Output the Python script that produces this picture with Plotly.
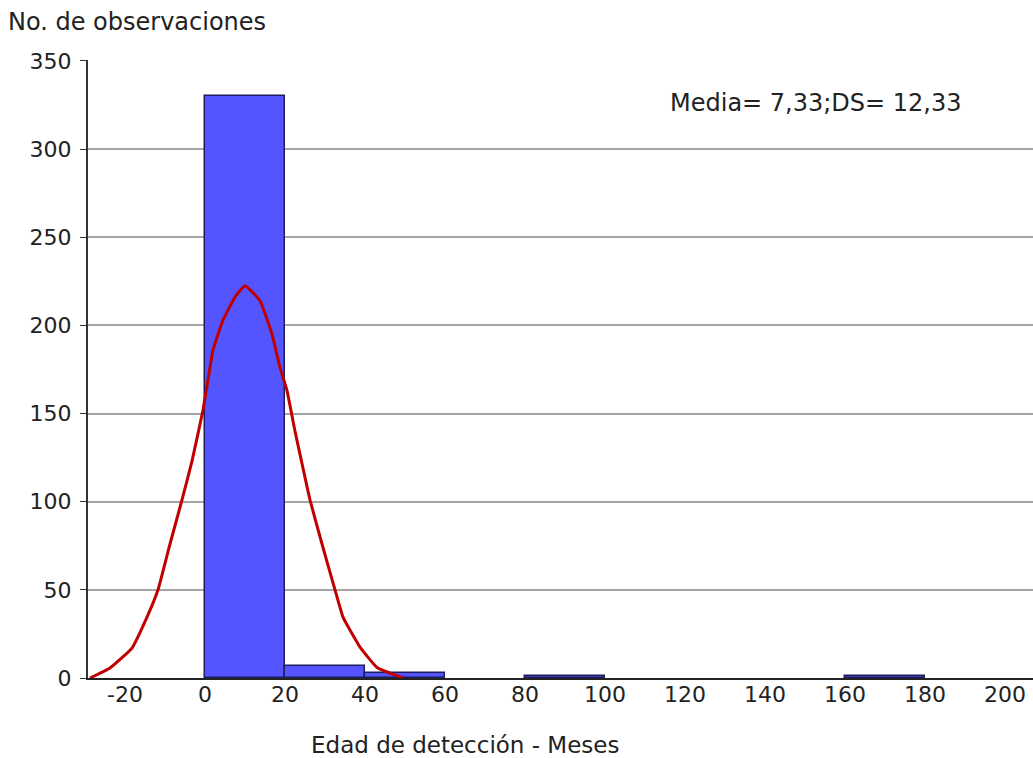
import plotly.graph_objects as go

# Histogram bins (left edge, right edge) and counts
bin_left = [0, 20, 40, 80, 160]
bin_right = [20, 40, 60, 100, 180]
counts = [330, 7, 3, 1, 1]

# Fitted normal curve
curve_x = [-28.75, -23.75, -18.25, -14.5, -11.75, -8.75, -5.75, -3.25, -0.5, 0.75, 2, 4.5, 7.5, 10,
           13.75, 16.75, 18.75, 20.5, 22.5, 24.5, 26.25, 29.5, 32.5, 34.5, 38.75, 43, 49.5]
curve_y = [0, 5.7, 17, 34.5, 50, 76, 101, 123, 152, 169, 186, 203, 216, 222.5,
           214, 195, 176, 163, 140, 119, 101, 74, 50, 34.5, 17.5, 6, 0]

x_ticks = [-20, 0, 20, 40, 60, 80, 100, 120, 140, 160, 180, 200]
x_tick_labels = ["-20", "0", "20", "40", "60", "80", "100", "120", "140", "160", "180", "200"]
y_ticks = [0, 50, 100, 150, 200, 250, 300, 350]

FONT = "DejaVu Sans"
TXT = "#222222"

centers = [(a + b) / 2 for a, b in zip(bin_left, bin_right)]
widths = [b - a for a, b in zip(bin_left, bin_right)]

fig = go.Figure()
fig.add_trace(go.Bar(
    x=centers, y=counts, width=widths,
    marker=dict(color="#5555ff", line=dict(color="#1c1c5e", width=1.5)),
    showlegend=False, hoverinfo="x+y"))
fig.add_trace(go.Scatter(
    x=curve_x, y=curve_y, mode="lines",
    line=dict(color="#c00000", width=3, shape="spline", smoothing=0.35),
    showlegend=False))

fig.update_layout(
    width=1033, height=758,
    margin=dict(l=88, r=0, t=60, b=80),
    paper_bgcolor="white", plot_bgcolor="white",
    font=dict(family=FONT, size=22, color=TXT),
    bargap=0,
    xaxis=dict(range=[-29.25, 207], tickvals=x_ticks, ticktext=x_tick_labels,
               showgrid=False, zeroline=False,
               showline=True, linecolor="#222222", linewidth=2, ticks="",
               ticklabelstandoff=-4,
               tickfont=dict(size=22, color=TXT)),
    yaxis=dict(range=[0, 350.5], tickvals=y_ticks, showgrid=True, gridcolor="#a6a6a6", gridwidth=1.5,
               zeroline=False, showline=True, linecolor="#333333", linewidth=2,
               ticks="outside", ticklen=6, tickcolor="#333333", ticklabelstandoff=4,
               tickfont=dict(size=22, color=TXT)),
    annotations=[
        dict(text="No. de observaciones", xref="paper", yref="paper",
             x=(6 - 88) / 945, y=(678 - 22) / 618, xanchor="left", yanchor="middle",
             showarrow=False, font=dict(size=24, color=TXT)),
        dict(text="Edad de detección - Meses", xref="paper", yref="paper",
             x=(465 - 88) / 945, y=(678 - 745) / 618, xanchor="center", yanchor="middle",
             showarrow=False, font=dict(size=23, color=TXT)),
        dict(text="Media= 7,33;DS= 12,33", xref="paper", yref="paper",
             x=(668 - 88) / 945, y=(678 - 103) / 618, xanchor="left", yanchor="middle",
             showarrow=False, font=dict(size=24, color=TXT)),
    ],
)

fig.write_html("out.html", config={"displayModeBar": False},
               post_script="document.body.style.margin='0';document.body.style.overflow='hidden';")
